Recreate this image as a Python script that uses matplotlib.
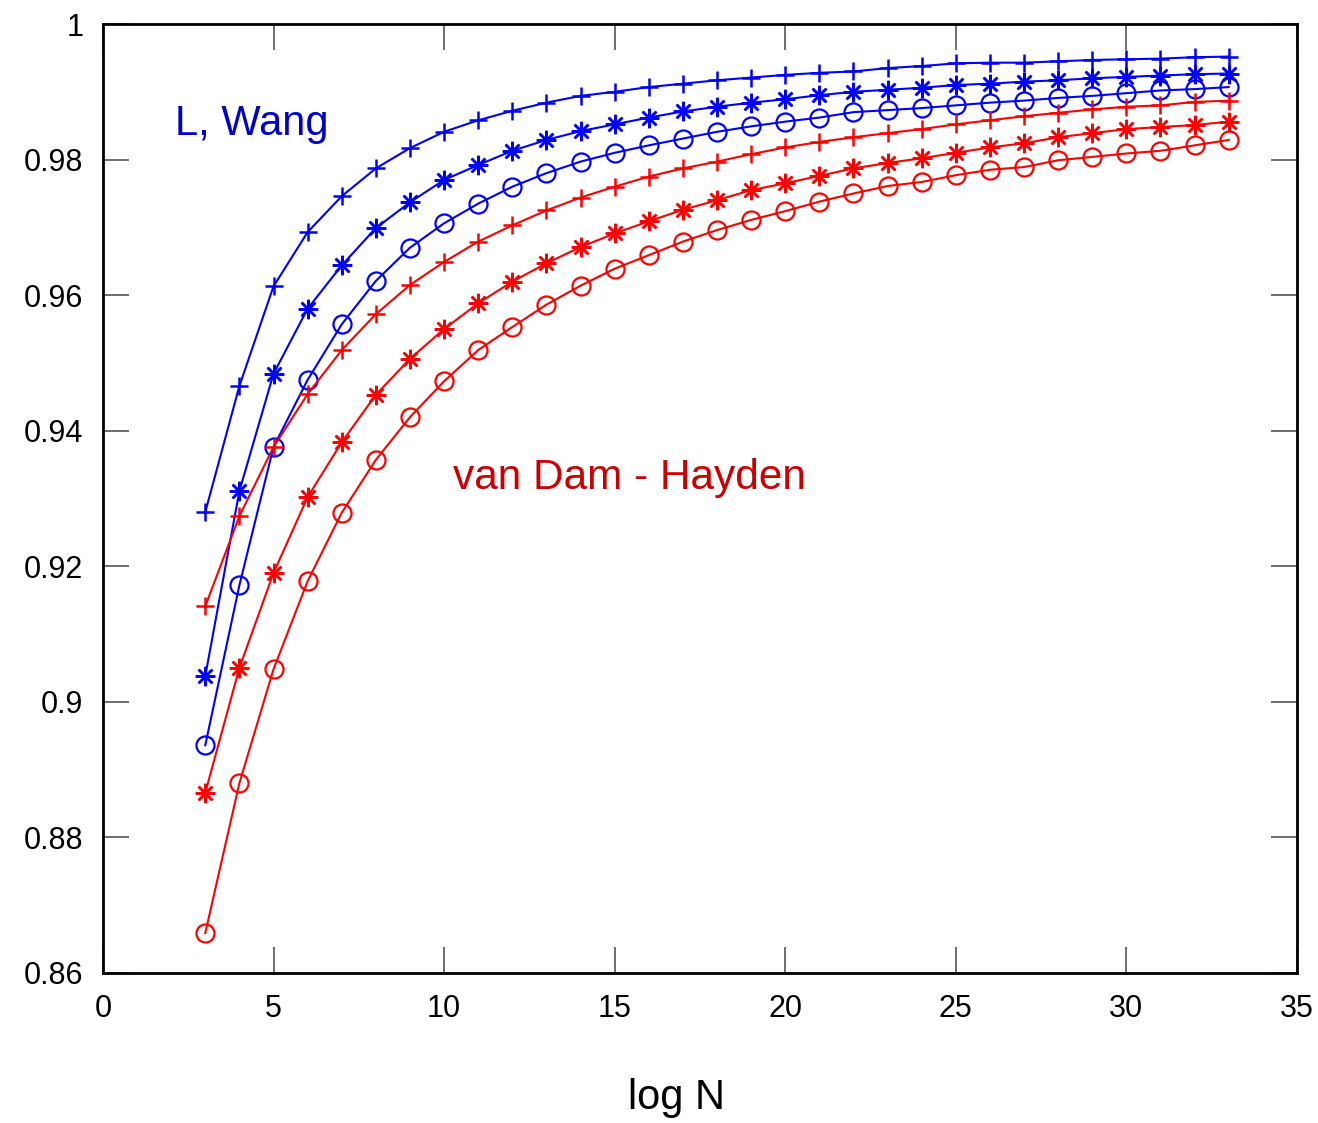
import matplotlib
matplotlib.use("Agg")
import matplotlib.pyplot as plt
from matplotlib.ticker import FormatStrFormatter

plt.rcParams['font.family'] = ['Liberation Sans', 'DejaVu Sans']

# log N values
logN = list(range(3, 34))

# L, Wang curves (blue)
wang_plus = [0.9280, 0.9466, 0.9613, 0.9693, 0.9746, 0.9787, 0.9817, 0.9841, 0.9858, 0.9872,
             0.9884, 0.9894, 0.9900, 0.9907, 0.9912, 0.9917, 0.9921, 0.9925, 0.9928, 0.9930,
             0.9935, 0.9938, 0.9942, 0.9943, 0.9943, 0.9945, 0.9947, 0.9948, 0.9949, 0.9951, 0.9952]
wang_star = [0.9038, 0.9311, 0.9484, 0.9580, 0.9644, 0.9699, 0.9737, 0.9770, 0.9792, 0.9813,
             0.9829, 0.9842, 0.9852, 0.9862, 0.9871, 0.9878, 0.9884, 0.9889, 0.9895, 0.9900,
             0.9903, 0.9906, 0.9910, 0.9912, 0.9915, 0.9917, 0.9920, 0.9922, 0.9924, 0.9926, 0.9927]
wang_circ = [0.8936, 0.9172, 0.9376, 0.9475, 0.9557, 0.9621, 0.9670, 0.9706, 0.9735, 0.9760,
             0.9780, 0.9797, 0.9810, 0.9821, 0.9831, 0.9841, 0.9849, 0.9856, 0.9862, 0.9870,
             0.9873, 0.9876, 0.9880, 0.9884, 0.9887, 0.9891, 0.9894, 0.9898, 0.9902, 0.9904, 0.9907]

# van Dam - Hayden curves (red)
vdh_plus = [0.9141, 0.9274, 0.9376, 0.9454, 0.9519, 0.9572, 0.9615, 0.9649, 0.9679, 0.9703,
            0.9725, 0.9744, 0.9760, 0.9775, 0.9787, 0.9797, 0.9808, 0.9818, 0.9826, 0.9833,
            0.9839, 0.9845, 0.9852, 0.9858, 0.9864, 0.9869, 0.9874, 0.9878, 0.9880, 0.9885, 0.9887]
vdh_star = [0.8866, 0.9050, 0.9190, 0.9302, 0.9383, 0.9453, 0.9506, 0.9550, 0.9588, 0.9620,
            0.9647, 0.9671, 0.9691, 0.9709, 0.9726, 0.9740, 0.9755, 0.9765, 0.9776, 0.9787,
            0.9795, 0.9802, 0.9810, 0.9818, 0.9824, 0.9833, 0.9839, 0.9845, 0.9848, 0.9851, 0.9856]
vdh_circ = [0.8659, 0.8880, 0.9048, 0.9178, 0.9279, 0.9357, 0.9420, 0.9473, 0.9519, 0.9553,
            0.9586, 0.9614, 0.9639, 0.9659, 0.9679, 0.9696, 0.9711, 0.9724, 0.9738, 0.9750,
            0.9761, 0.9767, 0.9777, 0.9785, 0.9789, 0.9799, 0.9804, 0.9809, 0.9813, 0.9821, 0.9829]

fig = plt.figure(figsize=(13.18, 11.23), dpi=100)
ax = fig.add_axes([0.0781, 0.1336, 0.9059, 0.8450])

star = (8, 2, 0)
blue = '#0000ff'
red = '#ff0000'

ax.plot(logN, wang_plus, color=blue, lw=1.5, marker='+', ms=13, mew=1.8)
ax.plot(logN, wang_star, color=blue, lw=1.5, marker=star, ms=14, mew=1.8)
ax.plot(logN, wang_circ, color=blue, lw=1.5, marker='o', ms=13, mew=1.6, mfc='none')
ax.plot(logN, vdh_plus, color=red, lw=1.5, marker='+', ms=13, mew=1.8)
ax.plot(logN, vdh_star, color=red, lw=1.5, marker=star, ms=14, mew=1.8)
ax.plot(logN, vdh_circ, color=red, lw=1.5, marker='o', ms=13, mew=1.6, mfc='none')

ax.text(2.1, 0.9852, 'L, Wang', color='#0000cc', fontsize=30, va='center', ha='left')
ax.text(10.25, 0.933, 'van Dam - Hayden', color='#cc0000', fontsize=30.5, va='center', ha='left')

ax.set_xlim(0, 35)
ax.set_ylim(0.86, 1.0)
ax.set_xticks(range(0, 36, 5))
ax.set_yticks([0.86, 0.88, 0.90, 0.92, 0.94, 0.96, 0.98, 1.0])
ax.yaxis.set_major_formatter(FormatStrFormatter('%g'))
ax.tick_params(direction='in', length=19, width=1.2, color='#555555',
               top=True, right=True, labelsize=22)
ax.tick_params(axis='x', pad=15)
ax.tick_params(axis='y', pad=14)
for s in ax.spines.values():
    s.set_linewidth(2)

fig.text(676 / 1318, 1 - 1098 / 1123, 'log N', fontsize=30, ha='center', va='center')

fig.savefig('out.png', dpi=100)
